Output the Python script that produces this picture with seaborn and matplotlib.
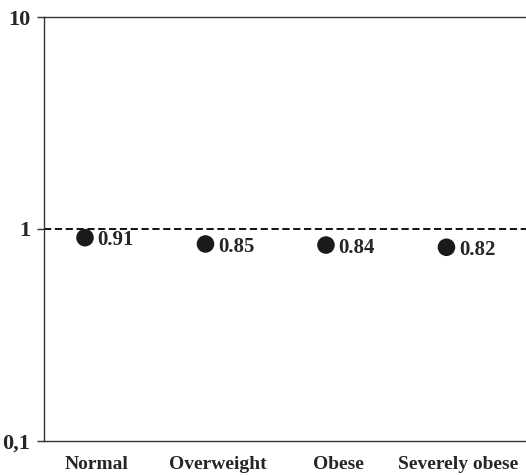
import numpy as np
import pandas as pd
import matplotlib
matplotlib.use('Agg')
import matplotlib.pyplot as plt
import seaborn as sns

categories = ['Normal', 'Overweight', 'Obese', 'Severely obese']
values = [0.91, 0.85, 0.84, 0.82]
value_labels = ['0.91', '0.85', '0.84', '0.82']
ytick_vals = [0.1, 1, 10]
ytick_labels = ['0,1', '1', '10']

df = pd.DataFrame({'pos': np.arange(len(categories)), 'value': values})

sns.set_style('white')
plt.rcParams['font.family'] = ['Liberation Serif', 'DejaVu Serif']
plt.rcParams['font.weight'] = 'bold'

fig = plt.figure(figsize=(5.26, 4.75), dpi=100)
ax = fig.add_axes([0.0837, 0.0716, 0.9163, 0.8926])

sns.scatterplot(data=df, x='pos', y='value', ax=ax, s=160, color='#1a1a1a',
                edgecolor='none', zorder=3, legend=False)
ax.axhline(1, color='black', linestyle=(0, (4, 2)), linewidth=1.3, zorder=2)

for i, (v, lab) in enumerate(zip(values, value_labels)):
    ax.annotate(lab, (i, v), xytext=(9, -2), textcoords='offset points',
                va='center', ha='left', fontsize=15, fontweight='bold')

ax.set_yscale('log')
ax.set_ylim(0.1, 10)
ax.set_yticks(ytick_vals)
ax.set_yticklabels(ytick_labels, fontsize=16, fontweight='bold')
ax.yaxis.set_minor_locator(matplotlib.ticker.NullLocator())
ax.tick_params(axis='y', left=True, length=5, width=1, color='#333333', pad=5)

ax.set_xlim(-0.34, 3.66)
ax.set_xticks(np.arange(len(categories)) + 0.1)
ax.set_xticklabels(categories, fontsize=14, fontweight='bold')
ax.tick_params(axis='x', bottom=False, pad=7)
ax.set_xlabel('')
ax.set_ylabel('')

for side in ['left', 'bottom', 'top']:
    ax.spines[side].set_color('#333333')
    ax.spines[side].set_linewidth(1)
ax.spines['right'].set_visible(False)

fig.savefig('out.png', dpi=100)
